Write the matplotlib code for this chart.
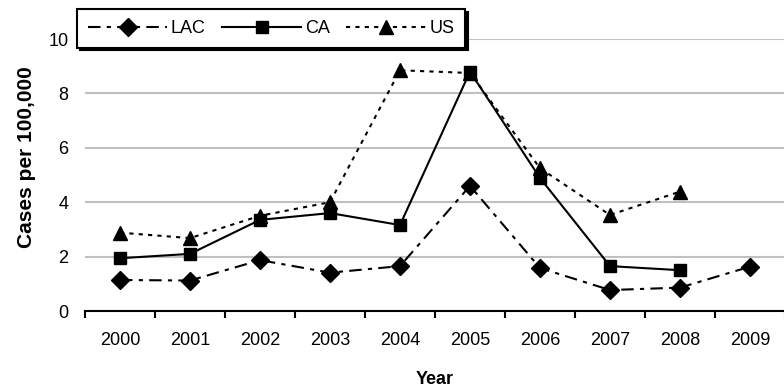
import matplotlib.pyplot as plt
from matplotlib.ticker import FixedLocator

plt.rcParams['font.family'] = ['Liberation Sans', 'DejaVu Sans']

years = ['2000', '2001', '2002', '2003', '2004', '2005', '2006', '2007', '2008', '2009']
lac = [1.14, 1.12, 1.87, 1.41, 1.65, 4.6, 1.58, 0.77, 0.86, 1.63]
ca = [1.94, 2.1, 3.35, 3.6, 3.16, 8.8, 4.89, 1.65, 1.5, None]
us = [2.88, 2.68, 3.5, 4.0, 8.85, 8.75, 5.25, 3.53, 4.39, None]

x = list(range(len(years)))

fig = plt.figure(figsize=(7.84, 3.91), dpi=100)
ax = fig.add_axes([85 / 784, 1 - 311 / 391, 700 / 784, 272 / 391])

ax.plot(x, lac, color='black', lw=1.5, dashes=(6, 3, 2, 3), marker='D', ms=9, label='LAC')
ax.plot([i for i, v in zip(x, ca) if v is not None], [v for v in ca if v is not None],
        color='black', lw=1.5, ls='-', marker='s', ms=9, label='CA')
ax.plot([i for i, v in zip(x, us) if v is not None], [v for v in us if v is not None],
        color='black', lw=1.5, dashes=(2, 2.5), marker='^', ms=10, label='US')

ax.set_xlim(-0.5, len(years) - 0.5)
ax.set_ylim(0, 10)
ax.set_xticks(x)
ax.set_xticklabels(years, fontsize=13)
ax.xaxis.set_minor_locator(FixedLocator([i - 0.5 for i in range(len(years) + 1)]))
ax.tick_params(axis='x', which='major', length=0, pad=15)
ax.tick_params(axis='x', which='minor', length=5, width=1.5, direction='out')
ax.set_yticks([0, 2, 4, 6, 8, 10])
ax.tick_params(axis='y', length=0, labelsize=13, pad=12)

ax.grid(axis='y', color='#c0c0c0', lw=1.5)
ax.set_axisbelow(True)
for s in ['left', 'right', 'top']:
    ax.spines[s].set_visible(False)
ax.spines['bottom'].set_linewidth(1.5)

ax.set_xlabel('Year', fontsize=13, fontweight='bold')
ax.xaxis.set_label_coords(0.5, (311 - 371) / 272)
ax.set_ylabel('Cases per 100,000', fontsize=15, fontweight='bold')
ax.yaxis.set_label_coords((36 - 85) / 700, (311 - 157) / 272)

# legend with a solid black drop shadow, like the original
leg = ax.legend(ncol=3, loc='upper left', bbox_to_anchor=(77 / 784, 1 - 9 / 391),
                bbox_transform=fig.transFigure, frameon=True, fancybox=False,
                shadow={'color': 'black', 'alpha': 1},
                edgecolor='black', fontsize=13, handlelength=4.4, columnspacing=0.9,
                handletextpad=0.2, borderpad=0.6, borderaxespad=0)
leg.get_frame().set_linewidth(1.5)
leg.get_frame().set_alpha(1)

plt.savefig('out.png', dpi=100)
